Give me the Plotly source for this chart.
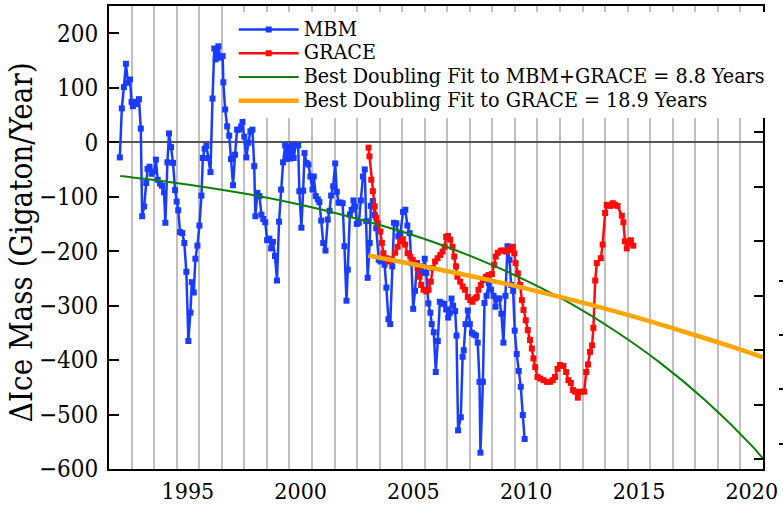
import plotly.graph_objects as go

# ---------------- data ----------------
mbm_year = [1991.98, 1992.07, 1992.16, 1992.25, 1992.34, 1992.43, 1992.50, 1992.56, 1992.65, 1992.74,
            1992.83, 1992.91, 1992.97, 1993.06, 1993.15, 1993.21, 1993.30, 1993.39, 1993.49, 1993.58,
            1993.66, 1993.76, 1993.85, 1993.94, 1994.00, 1994.09, 1994.16, 1994.25, 1994.34, 1994.43,
            1994.50, 1994.57, 1994.65, 1994.75, 1994.84, 1994.93, 1995.02, 1995.11, 1995.17, 1995.26,
            1995.33, 1995.42, 1995.51, 1995.60, 1995.66, 1995.74, 1995.82, 1995.91, 1996.00, 1996.09,
            1996.17, 1996.23, 1996.29, 1996.35, 1996.44, 1996.54, 1996.57, 1996.65, 1996.74, 1996.83,
            1996.91, 1997.00, 1997.09, 1997.18, 1997.27, 1997.36, 1997.42, 1997.50, 1997.59, 1997.68,
            1997.77, 1997.86, 1997.94, 1997.99, 1998.08, 1998.17, 1998.26, 1998.34, 1998.43, 1998.51,
            1998.61, 1998.69, 1998.77, 1998.86, 1998.95, 1999.04, 1999.13, 1999.22, 1999.31, 1999.37,
            1999.44, 1999.53, 1999.62, 1999.69, 1999.78, 1999.89, 1999.94, 2000.03, 2000.11, 2000.17,
            2000.26, 2000.34, 2000.43, 2000.52, 2000.58, 2000.67, 2000.76, 2000.83, 2000.91, 2001.00,
            2001.10, 2001.20, 2001.28, 2001.35, 2001.44, 2001.53, 2001.60, 2001.68, 2001.77, 2001.86,
            2001.94, 2002.03, 2002.09, 2002.18, 2002.26, 2002.34, 2002.43, 2002.49, 2002.58, 2002.67,
            2002.76, 2002.84, 2002.91, 2002.97, 2003.06, 2003.11, 2003.20, 2003.29, 2003.35, 2003.46,
            2003.54, 2003.65, 2003.72, 2003.80, 2003.89, 2003.97, 2004.06, 2004.14, 2004.24, 2004.33,
            2004.42, 2004.54, 2004.64, 2004.73, 2004.83, 2004.91, 2004.99, 2005.07, 2005.16, 2005.28,
            2005.38, 2005.50, 2005.57, 2005.66, 2005.75, 2005.81, 2005.90, 2005.99, 2006.08, 2006.17,
            2006.27, 2006.36, 2006.45, 2006.54, 2006.61, 2006.69, 2006.76, 2006.85, 2006.91, 2006.98,
            2007.10, 2007.18, 2007.23, 2007.31, 2007.41, 2007.50, 2007.59, 2007.68, 2007.77, 2007.85,
            2007.93, 2007.97, 2008.08, 2008.15, 2008.24, 2008.34, 2008.44, 2008.55, 2008.64, 2008.72,
            2008.81, 2008.90, 2008.99, 2009.08, 2009.17, 2009.26, 2009.33, 2009.42, 2009.49, 2009.58,
            2009.67, 2009.76, 2009.85, 2009.93]
mbm_val = [-28, 62, 101, 144, 109, 115, 74, 66, 74, 70,
           79, 25, -136, -118, -75, -49, -45, -58, -54, -32,
           -69, -76, -80, -92, -148, -37, 16, -9, -38, -88,
           -109, -125, -165, -167, -185, -238, -365, -313, -257, -276,
           -214, -190, -153, -98, -29, -12, -7, -29, -55, 80,
           172, 152, 161, 176, 155, 158, 110, 60, 29, 12,
           -31, -79, -23, 23, 23, 29, 37, 10, -28, -1,
           20, 23, -44, -136, -93, -99, -133, -141, -147, -180,
           -177, -195, -183, -209, -254, -146, -87, -37, -6, -31,
           -8, -30, -6, -29, -5, -6, -90, -157, -89, -20,
           -38, -41, -63, -87, -63, -99, -105, -110, -144, -185,
           -199, -142, -126, -98, -81, -39, -91, -111, -111, -112,
           -191, -291, -234, -133, -124, -107, -118, -150, -148, -107,
           -63, -50, -145, -249, -185, -117, -108, -134, -158, -216,
           -219, -216, -225, -267, -325, -334, -228, -148, -149, -173,
           -167, -128, -124, -153, -167, -222, -306, -273, -222, -228,
           -240, -214, -240, -296, -313, -334, -349, -422, -365, -293,
           -296, -297, -307, -322, -314, -287, -300, -310, -355, -529,
           -505, -394, -382, -334, -309, -334, -350, -353, -355, -368,
           -440, -570, -440, -295, -282, -259, -271, -282, -302, -287,
           -287, -315, -368, -282, -191, -216, -262, -273, -346, -389,
           -420, -449, -501, -545]

grace_year = [2003.01, 2003.05, 2003.13, 2003.20, 2003.28, 2003.35, 2003.42, 2003.53, 2003.60, 2003.67,
              2003.78, 2003.90, 2004.04, 2004.19, 2004.30, 2004.41, 2004.53, 2004.63, 2004.74, 2004.86,
              2004.97, 2005.08, 2005.18, 2005.27, 2005.34, 2005.45, 2005.57, 2005.67, 2005.77, 2005.86,
              2005.96, 2006.07, 2006.19, 2006.29, 2006.38, 2006.45, 2006.53, 2006.63, 2006.73, 2006.81,
              2006.89, 2006.95, 2007.07, 2007.18, 2007.29, 2007.41, 2007.52, 2007.62, 2007.74, 2007.81,
              2007.88, 2007.99, 2008.08, 2008.21, 2008.33, 2008.48, 2008.58, 2008.65, 2008.74, 2008.88,
              2008.99, 2009.10, 2009.21, 2009.32, 2009.41, 2009.47, 2009.53, 2009.63, 2009.73, 2009.81,
              2009.88, 2009.98, 2010.07, 2010.17, 2010.25, 2010.32, 2010.40, 2010.50, 2010.62, 2010.77,
              2010.91, 2011.06, 2011.18, 2011.28, 2011.39, 2011.50, 2011.65, 2011.77, 2011.87, 2011.98,
              2012.07, 2012.17, 2012.29, 2012.42, 2012.57, 2012.66, 2012.74, 2012.83, 2012.92, 2012.98,
              2013.06, 2013.13, 2013.31, 2013.39, 2013.50, 2013.57, 2013.72, 2013.84, 2013.94, 2014.05,
              2014.24, 2014.31, 2014.38, 2014.46, 2014.53, 2014.64, 2014.75]
grace_val = [-10, -26, -69, -90, -118, -139, -149, -164, -185, -204,
             -213, -219, -215, -203, -192, -182, -178, -188, -204, -210,
             -216, -222, -231, -247, -262, -271, -274, -271, -256, -231,
             -219, -213, -207, -201, -192, -174, -172, -179, -192, -210,
             -228, -247, -256, -265, -271, -284, -290, -293, -287, -284,
             -271, -262, -253, -247, -244, -242, -225, -210, -203, -199,
             -199, -201, -198, -195, -192, -204, -222, -241, -262, -290,
             -308, -327, -345, -363, -379, -397, -413, -431, -434, -437,
             -440, -440, -437, -431, -416, -409, -411, -422, -437, -442,
             -455, -458, -469, -458, -458, -422, -408, -385, -373, -341,
             -254, -222, -213, -188, -130, -115, -117, -112, -115, -117,
             -135, -147, -182, -195, -185, -180, -190]

fit_all_year = [1992, 1994, 1996, 1998, 2000, 2002, 2004, 2006, 2008, 2010,
                2012, 2014, 2016, 2018, 2020, 2020.5]
fit_all_val = [-62, -72, -84, -98, -115, -135, -158, -185, -217, -254,
               -297, -348, -407, -476, -557, -581]

fit_grace_year = [2003, 2005, 2007, 2009, 2011, 2013, 2015, 2017, 2019, 2020.5]
fit_grace_val = [-208, -224, -241, -259, -279, -300, -323, -348, -374, -395]

x_ticks = [1995, 2000, 2005, 2010, 2015, 2020]
y_ticks = [-600, -500, -400, -300, -200, -100, 0, 100, 200]
right_inner_ticks = [218, 118, 18, -82, -182, -282, -382, -482, -582]
right_outer_ticks = [-254, -354, -454, -554]

y_title = "\u0394Ice Mass (Gigaton/Year)"
labels = ["MBM", "GRACE",
          "Best Doubling Fit to MBM+GRACE = 8.8 Years",
          "Best Doubling Fit to GRACE = 18.9 Years"]

# ---------------- figure ----------------
FONT = "DejaVu Serif Condensed, DejaVu Serif"
BLUE = "rgb(25,60,255)"
RED = "rgb(255,10,10)"
GREEN = "rgb(10,128,10)"
ORANGE = "rgb(255,165,0)"


def leg(t):
    return '<span style="font-size:21.3px">' + t + '</span>'


fig = go.Figure()
fig.add_trace(go.Scatter(x=mbm_year, y=mbm_val, name=leg(labels[0]), mode="lines+markers",
                         line=dict(color=BLUE, width=2.5),
                         marker=dict(symbol="square", size=6, color=BLUE)))
fig.add_trace(go.Scatter(x=grace_year, y=grace_val, name=leg(labels[1]), mode="lines+markers",
                         line=dict(color=RED, width=2.5),
                         marker=dict(symbol="square", size=6, color=RED)))
fig.add_trace(go.Scatter(x=fit_all_year, y=fit_all_val, name=leg(labels[2]), mode="lines",
                         line=dict(color=GREEN, width=2, shape="spline")))
fig.add_trace(go.Scatter(x=fit_grace_year, y=fit_grace_val, name=leg(labels[3]), mode="lines",
                         line=dict(color=ORANGE, width=4.5, shape="spline")))
fig.add_trace(go.Scatter(x=[], y=[], yaxis="y2", showlegend=False, hoverinfo="skip"))
fig.add_trace(go.Scatter(x=[], y=[], yaxis="y3", showlegend=False, hoverinfo="skip"))

yr = [-600, 250]
fig.update_layout(
    width=783, height=510,
    margin=dict(l=109, r=0, t=6, b=41, autoexpand=False),
    paper_bgcolor="white", plot_bgcolor="white",
    font=dict(family=FONT, color="black", size=24),
    showlegend=True,
    legend=dict(x=0.185, y=0.986, xanchor="left", yanchor="top",
                bgcolor="white", borderwidth=0,
                font=dict(family=FONT, size=16, color="black"),
                itemwidth=60, traceorder="normal"),
    xaxis=dict(range=[1991.5, 2020.5], domain=[0, 654 / 674], automargin=False,
               tickmode="array", tickvals=x_ticks, ticks="", ticklabeloverflow="allow",
               showgrid=False, zeroline=False,
               minor=dict(tick0=1991.5, dtick=1, showgrid=True,
                          gridcolor="rgb(192,192,192)", gridwidth=1.5, ticks=""),
               showline=True, linecolor="black", linewidth=2, mirror=True,
               tickfont=dict(family=FONT, size=23)),
    yaxis=dict(range=yr, tickmode="array", tickvals=y_ticks, automargin=False,
               ticks="inside", ticklen=10, tickwidth=1.5, tickcolor="black",
               showgrid=False, zeroline=True, zerolinecolor="rgb(85,85,85)", zerolinewidth=1.5,
               showline=True, linecolor="black", linewidth=2, mirror=True,
               tickfont=dict(family=FONT, size=24),
               ticklabelstandoff=4),
    yaxis2=dict(range=yr, overlaying="y", side="right", anchor="x", automargin=False,
                tickmode="array", tickvals=right_inner_ticks,
                ticks="inside", ticklen=9, tickwidth=1.5, tickcolor="black",
                showticklabels=False, showgrid=False, zeroline=False, showline=False),
    yaxis3=dict(range=yr, overlaying="y", side="left", anchor="free", position=669 / 674,
                automargin=False,
                tickmode="array", tickvals=right_outer_ticks,
                ticks="inside", ticklen=5, tickwidth=1.5, tickcolor="black",
                showticklabels=False, showgrid=False, zeroline=False, showline=False),
    annotations=[dict(text=y_title, textangle=-90, showarrow=False,
                      xref="paper", yref="paper", x=(21 - 109) / 674, y=0.49,
                      xanchor="center", yanchor="middle",
                      font=dict(family=FONT, size=31, color="black"))],
)

fig.write_html("out.html", post_script="document.body.style.margin='0px';",
               config={"displayModeBar": False})
